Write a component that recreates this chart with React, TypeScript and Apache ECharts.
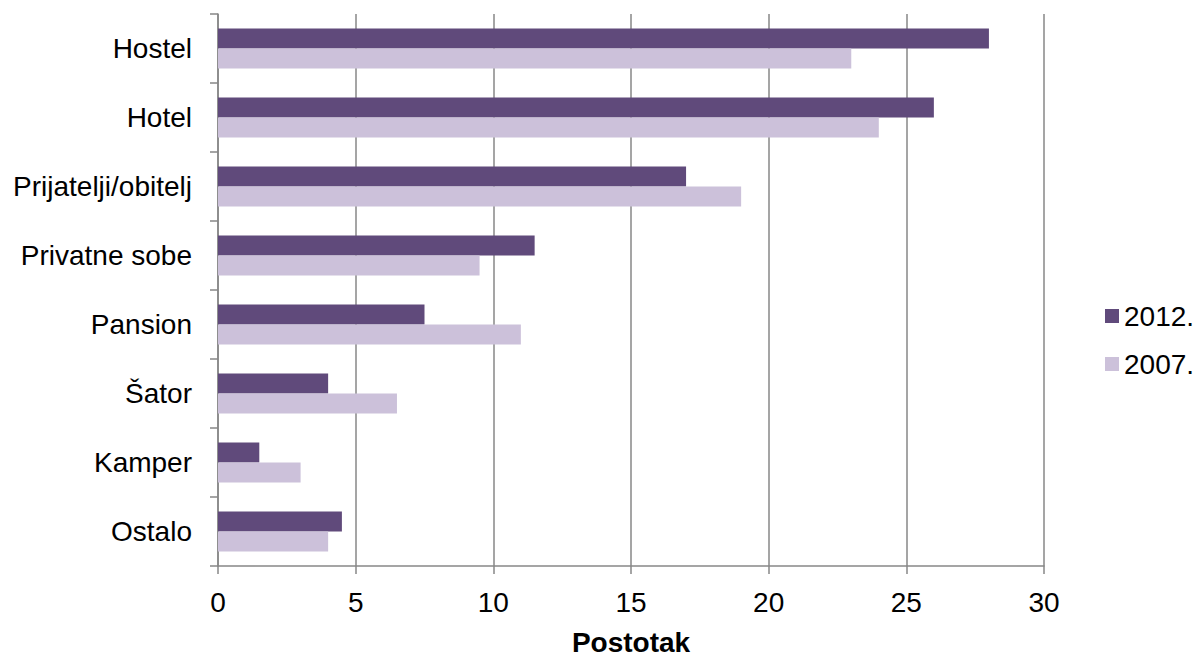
import React, { useEffect, useRef } from "react";
import * as echarts from "echarts";

const categories = ["Hostel", "Hotel", "Prijatelji/obitelj", "Privatne sobe", "Pansion", "Šator", "Kamper", "Ostalo"];
const values2012 = [28, 26, 17, 11.5, 7.5, 4, 1.5, 4.5];
const values2007 = [23, 24, 19, 9.5, 11, 6.5, 3, 4];
const xTicks = [0, 5, 10, 15, 20, 25, 30];

const FONT = "'Liberation Sans', Arial, sans-serif";
const GRID = "#878787";

export default function App() {
  const ref = useRef<HTMLDivElement>(null);
  useEffect(() => {
    if (!ref.current) return;
    const chart = echarts.init(ref.current, null, { renderer: "svg" });
    chart.setOption({
      animation: false,
      textStyle: { fontFamily: FONT },
      grid: { left: 218, right: 155, top: 14, bottom: 88 },
      legend: {
        orient: "vertical",
        left: 1100,
        top: 297,
        itemWidth: 14,
        itemHeight: 14,
        itemGap: 20,
        icon: "rect",
        textStyle: { fontSize: 28, color: "#000", fontFamily: FONT, padding: [0, 0, 0, 0] },
        data: ["2012.", "2007."],
      },
      xAxis: {
        type: "value",
        min: xTicks[0],
        max: xTicks[xTicks.length - 1],
        interval: 5,
        name: "Postotak",
        nameLocation: "middle",
        nameGap: 62,
        nameTextStyle: { fontSize: 28, fontWeight: "bold", color: "#000", fontFamily: FONT },
        axisLine: { show: true, lineStyle: { color: GRID, width: 1.5 } },
        axisTick: { show: true, length: 8, lineStyle: { color: GRID, width: 1.5 } },
        axisLabel: { fontSize: 28, color: "#000", margin: 22, fontFamily: FONT },
        splitLine: { show: true, lineStyle: { color: GRID, width: 1.5 } },
      },
      yAxis: {
        type: "category",
        data: categories,
        inverse: true,
        axisLine: { show: true, lineStyle: { color: GRID, width: 1.5 } },
        axisTick: { show: true, length: 8, lineStyle: { color: GRID, width: 1.5 } },
        axisLabel: { fontSize: 28, color: "#000", margin: 26, fontFamily: FONT },
        splitLine: { show: false },
      },
      series: [
        {
          name: "2012.",
          type: "bar",
          data: values2012,
          itemStyle: { color: "#604A7B" },
          barGap: "0%",
          barCategoryGap: "42%",
        },
        {
          name: "2007.",
          type: "bar",
          data: values2007,
          itemStyle: { color: "#CCC1DA" },
          barGap: "0%",
          barCategoryGap: "42%",
        },
      ],
    });
    return () => chart.dispose();
  }, []);
  return <div ref={ref} style={{ position: "absolute", left: 0, top: 0, width: 1199, height: 661 }} />;
}
